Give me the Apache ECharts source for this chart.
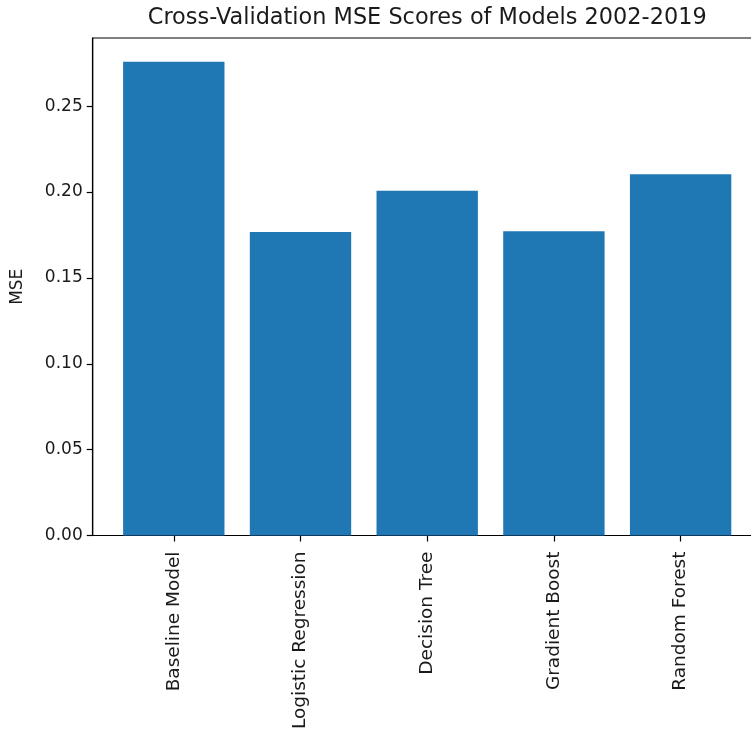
<!DOCTYPE html>
<html>
<head>
<meta charset="utf-8">
<title>Cross-Validation MSE Scores of Models 2002-2019</title>
<script src="https://cdn.jsdelivr.net/npm/echarts@6/dist/echarts.min.js"></script>
<style>
  html, body { margin: 0; padding: 0; background: #ffffff; }
  #chart { width: 751px; height: 729px; }
</style>
</head>
<body>
<div id="chart"></div>
<script>
// Model names along the x axis
const models = ['Baseline Model', 'Logistic Regression', 'Decision Tree', 'Gradient Boost', 'Random Forest'];
// Mean cross-validated MSE for each model
const mseScores = [0.2759, 0.1767, 0.2007, 0.1772, 0.2103];
// Y tick values
const yTicks = [0, 0.05, 0.10, 0.15, 0.20, 0.25];

const FONT = 'DejaVu Sans';
const TEXT = '#1a1a1a';

// Plot frame (its right edge runs past the canvas)
const gridLeft = 92.7, gridTop = 38, gridWidth = 669, gridHeight = 497.5;
// Bars sit at integer positions; pad the x range like a default bar plot
const xMin = -0.64, xMax = models.length - 1 + 0.64;
const yMax = Math.max(...mseScores) * 1.05;
const barWidth = gridWidth * 0.8 / (xMax - xMin);

const chart = echarts.init(document.getElementById('chart'), null, { renderer: 'canvas' });

chart.setOption({
  animation: false,
  backgroundColor: '#ffffff',
  title: {
    text: 'Cross-Validation MSE Scores of Models 2002-2019',
    left: gridLeft + gridWidth / 2,
    textAlign: 'center',
    top: 7,
    padding: 0,
    textStyle: { fontFamily: FONT, fontSize: 22.4, fontWeight: 'normal', color: TEXT }
  },
  grid: {
    left: gridLeft, top: gridTop, width: gridWidth, height: gridHeight,
    containLabel: false,
    outerBoundsMode: 'none',
    show: true, borderColor: '#000', borderWidth: 1.2, backgroundColor: 'transparent'
  },
  xAxis: {
    type: 'value',
    min: xMin,
    max: xMax,
    axisLine: { show: true, onZero: false, lineStyle: { color: '#000', width: 1.2 } },
    axisTick: { show: true, length: 6, customValues: models.map((_, i) => i), lineStyle: { color: '#000', width: 1.2 } },
    splitLine: { show: false },
    axisLabel: {
      customValues: models.map((_, i) => i),
      rotate: 90,
      margin: 16,
      fontFamily: FONT, fontSize: 18.5, color: TEXT,
      formatter: v => models[Math.round(v)] || ''
    }
  },
  yAxis: {
    type: 'value',
    min: 0,
    max: yMax,
    name: 'MSE',
    nameLocation: 'middle',
    nameGap: 67,
    nameRotate: 90,
    nameTextStyle: { fontFamily: FONT, fontSize: 17, color: TEXT },
    axisLine: { show: true, onZero: false, lineStyle: { color: '#000', width: 1.2 } },
    axisTick: { show: true, length: 6, customValues: yTicks, lineStyle: { color: '#000', width: 1.2 } },
    splitLine: { show: false },
    axisLabel: {
      customValues: yTicks,
      margin: 10,
      fontFamily: FONT, fontSize: 17, color: TEXT,
      formatter: v => v.toFixed(2)
    }
  },
  series: [{
    type: 'bar',
    data: mseScores.map((v, i) => [i, v]),
    barWidth: barWidth,
    itemStyle: { color: '#1f77b4' },
    silent: true
  }]
});
</script>
</body>
</html>
